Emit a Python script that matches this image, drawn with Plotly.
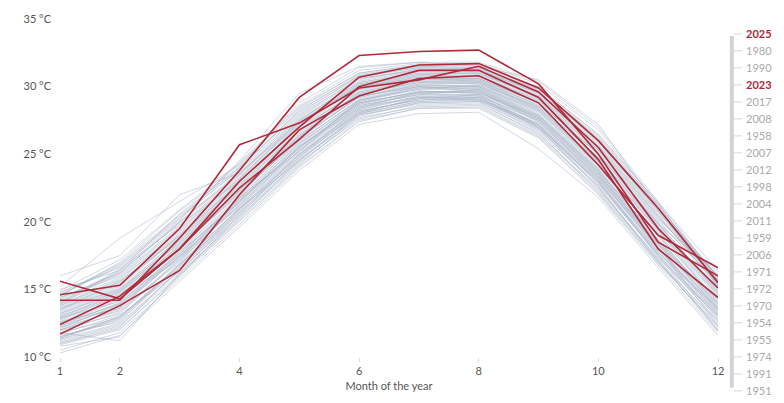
import plotly.graph_objects as go

months = list(range(1, 13))
x_ticks = [1, 2, 4, 6, 8, 10, 12]
y_ticks = [10, 15, 20, 25, 30, 35]
y_tick_text = ["10 °C", "15 °C", "20 °C", "25 °C", "30 °C", "35 °C"]

grey_years = [1951, 1952, 1953, 1954, 1955, 1956, 1957, 1958, 1959, 1960,
              1961, 1962, 1963, 1964, 1965, 1966, 1967, 1968, 1969, 1970,
              1971, 1972, 1973, 1974, 1975, 1976, 1977, 1978, 1979, 1980,
              1981, 1982, 1983, 1984, 1985, 1986, 1987, 1988, 1989, 1990,
              1991, 1992, 1993, 1994, 1995, 1996, 1997, 1998, 1999, 2000,
              2001, 2002, 2003, 2004, 2005, 2006, 2007, 2008, 2009, 2010,
              2011, 2012, 2013, 2014, 2015, 2016, 2017, 2018, 2019, 2020]

grey_temps = [
    [11.0, 12.2, 16.5, 20.8, 25.0, 28.2, 29.0, 29.2, 27.0, 23.0, 17.5, 12.0],
    [12.0, 13.5, 17.0, 21.5, 25.8, 28.8, 29.6, 29.5, 27.5, 23.2, 18.0, 13.2],
    [11.5, 12.8, 16.8, 21.0, 24.5, 28.0, 29.2, 29.0, 27.2, 22.8, 17.8, 12.8],
    [10.8, 11.5, 16.0, 20.5, 24.8, 28.5, 29.5, 29.3, 27.0, 22.5, 17.2, 12.4],
    [12.2, 13.8, 17.5, 21.2, 25.5, 28.6, 29.4, 29.8, 27.6, 23.5, 18.2, 12.3],
    [11.8, 11.2, 16.2, 20.2, 24.6, 27.8, 28.8, 28.9, 26.8, 22.6, 17.0, 12.6],
    [12.8, 14.5, 17.2, 21.8, 25.2, 29.0, 30.0, 29.6, 27.8, 23.8, 18.6, 13.5],
    [13.0, 14.8, 18.2, 22.0, 26.2, 29.2, 30.2, 30.0, 28.0, 24.0, 19.2, 15.2],
    [12.6, 13.6, 17.8, 21.4, 25.6, 28.4, 29.6, 29.7, 27.4, 23.4, 18.4, 14.3],
    [11.4, 13.0, 16.6, 20.6, 25.0, 28.1, 29.1, 29.4, 27.1, 23.1, 17.6, 13.0],
    [12.4, 14.2, 18.0, 22.2, 26.0, 29.0, 29.8, 30.1, 28.2, 24.2, 18.9, 13.7],
    [11.2, 12.4, 16.4, 20.4, 24.4, 27.6, 28.6, 28.7, 26.6, 22.2, 17.0, 12.2],
    [10.5, 11.8, 15.8, 19.8, 24.0, 27.4, 28.4, 28.4, 26.2, 22.0, 16.8, 11.8],
    [12.0, 13.2, 17.3, 21.6, 25.4, 28.7, 29.7, 29.5, 27.7, 23.6, 18.1, 13.4],
    [11.6, 12.6, 16.9, 21.0, 25.1, 28.3, 29.3, 29.1, 27.3, 23.3, 17.9, 13.1],
    [13.2, 15.0, 18.4, 22.4, 26.4, 29.4, 30.4, 30.2, 28.4, 24.4, 19.4, 14.0],
    [11.3, 12.9, 16.7, 20.9, 24.9, 28.0, 28.9, 29.0, 26.9, 22.9, 17.4, 12.7],
    [12.3, 14.0, 17.6, 21.7, 25.7, 28.9, 29.9, 29.9, 27.9, 23.9, 18.7, 13.9],
    [11.9, 13.3, 17.1, 21.3, 25.3, 28.5, 29.2, 29.3, 27.5, 23.4, 18.0, 13.3],
    [10.9, 12.0, 16.1, 20.1, 24.2, 27.9, 28.7, 28.8, 26.5, 22.4, 17.3, 13.1],
    [11.7, 13.1, 16.3, 20.7, 24.7, 28.2, 29.0, 29.2, 27.0, 23.0, 17.7, 13.6],
    [12.1, 13.9, 17.4, 21.1, 25.2, 28.4, 29.3, 29.4, 27.2, 23.2, 18.3, 13.4],
    [10.3, 11.6, 15.6, 19.6, 23.8, 27.2, 28.0, 28.1, 25.4, 21.8, 16.6, 11.6],
    [11.1, 12.3, 16.2, 20.3, 24.3, 27.7, 28.5, 28.6, 26.4, 22.3, 17.1, 12.0],
    [12.5, 14.3, 17.9, 21.9, 25.9, 29.1, 30.0, 29.8, 27.8, 23.7, 18.5, 13.8],
    [11.5, 12.7, 16.6, 20.9, 24.8, 28.1, 29.1, 29.0, 27.1, 22.9, 17.5, 12.9],
    [13.5, 15.6, 18.8, 22.6, 26.6, 29.5, 30.3, 30.2, 28.5, 24.6, 19.6, 14.6],
    [12.7, 14.6, 18.1, 22.1, 26.1, 29.3, 30.1, 30.0, 28.1, 24.1, 19.0, 14.1],
    [11.0, 12.1, 16.0, 20.0, 24.1, 27.5, 28.4, 28.5, 26.3, 22.1, 16.9, 12.3],
    [13.4, 15.2, 19.0, 22.8, 26.8, 29.8, 30.6, 30.6, 28.8, 25.0, 19.8, 16.3],
    [12.9, 14.1, 17.7, 21.5, 25.6, 28.7, 29.5, 29.6, 27.6, 23.5, 18.4, 13.6],
    [16.0, 17.5, 22.0, 23.6, 27.4, 30.0, 30.6, 30.4, 28.6, 24.8, 19.6, 15.0],
    [12.2, 13.4, 17.2, 21.2, 25.3, 28.6, 29.4, 29.4, 27.4, 23.3, 18.1, 13.2],
    [11.4, 13.0, 16.8, 20.7, 24.6, 28.0, 28.9, 29.1, 26.9, 22.7, 17.6, 12.6],
    [12.6, 14.4, 18.3, 22.3, 26.3, 29.2, 30.1, 30.1, 28.3, 24.3, 19.1, 14.4],
    [11.8, 12.9, 16.9, 21.0, 25.0, 28.3, 29.2, 29.2, 27.2, 23.1, 17.8, 13.0],
    [13.1, 14.9, 18.6, 22.5, 26.5, 29.5, 30.3, 30.4, 28.4, 24.5, 19.5, 14.8],
    [12.0, 13.6, 17.5, 21.6, 25.5, 28.8, 29.6, 29.7, 27.7, 23.7, 18.4, 13.5],
    [14.0, 16.5, 19.8, 23.0, 27.0, 29.6, 30.5, 30.5, 28.6, 24.8, 19.8, 15.0],
    [13.6, 15.4, 18.9, 22.9, 27.2, 30.0, 30.8, 30.7, 29.0, 25.2, 20.2, 16.1],
    [11.3, 12.5, 16.4, 20.5, 24.5, 27.9, 28.8, 28.9, 26.7, 22.6, 17.2, 11.9],
    [12.4, 14.0, 17.8, 21.8, 26.0, 29.0, 29.9, 29.9, 27.9, 23.9, 18.7, 14.0],
    [12.8, 14.7, 18.5, 22.4, 26.4, 29.4, 30.2, 30.3, 28.3, 24.4, 19.3, 14.5],
    [13.3, 15.1, 18.7, 22.7, 26.7, 29.7, 30.5, 30.4, 28.7, 24.7, 19.7, 14.9],
    [13.8, 15.8, 19.3, 23.2, 27.4, 30.2, 31.0, 30.9, 29.2, 25.4, 20.4, 15.4],
    [12.5, 13.9, 17.6, 21.7, 25.8, 28.9, 29.8, 29.8, 27.8, 23.8, 18.6, 13.9],
    [14.2, 16.2, 20.0, 23.5, 27.6, 30.3, 31.1, 31.0, 29.3, 25.6, 20.6, 15.6],
    [13.7, 15.5, 19.2, 23.1, 27.3, 30.1, 30.9, 30.8, 29.1, 25.3, 20.3, 15.7],
    [12.3, 13.7, 17.4, 21.4, 25.5, 28.8, 29.6, 29.6, 27.6, 23.6, 18.3, 13.7],
    [13.0, 14.6, 18.2, 22.2, 26.2, 29.3, 30.0, 30.0, 28.2, 24.2, 19.0, 14.2],
    [14.4, 16.0, 19.6, 23.4, 27.5, 30.4, 31.2, 31.1, 29.4, 25.8, 20.8, 15.3],
    [12.9, 14.8, 18.4, 22.3, 26.3, 29.6, 30.4, 30.3, 28.5, 24.5, 19.4, 14.6],
    [14.6, 16.8, 20.4, 23.8, 28.0, 30.8, 31.4, 31.3, 29.6, 26.0, 21.0, 15.8],
    [13.9, 15.7, 19.4, 23.3, 27.3, 30.2, 30.9, 31.0, 29.2, 25.5, 20.4, 15.6],
    [15.0, 16.4, 20.6, 24.0, 28.2, 30.9, 31.5, 31.4, 29.8, 26.2, 21.2, 15.9],
    [13.5, 15.3, 19.1, 23.0, 27.1, 30.0, 30.7, 30.6, 28.9, 25.1, 20.0, 15.5],
    [14.3, 16.3, 19.9, 23.6, 27.7, 30.5, 31.3, 31.2, 29.5, 25.9, 20.9, 15.9],
    [14.1, 16.1, 19.7, 23.5, 27.8, 30.6, 31.2, 31.2, 29.5, 25.7, 20.7, 16.0],
    [15.2, 18.8, 21.5, 24.2, 28.4, 31.0, 31.6, 31.6, 30.0, 26.4, 21.4, 15.2],
    [13.6, 15.0, 18.8, 22.8, 27.0, 29.9, 30.7, 30.6, 28.8, 25.0, 19.9, 14.7],
    [14.8, 16.6, 20.2, 24.4, 28.6, 31.2, 31.7, 31.7, 30.2, 26.8, 21.3, 15.6],
    [14.5, 17.0, 20.8, 24.1, 28.8, 31.4, 31.8, 31.8, 30.4, 27.0, 21.5, 15.8],
    [13.2, 14.9, 18.6, 22.6, 26.8, 29.8, 30.6, 30.5, 28.8, 25.0, 19.9, 14.8],
    [14.0, 15.9, 19.5, 23.2, 27.5, 30.3, 31.0, 31.0, 29.3, 25.6, 20.5, 15.2],
    [13.9, 16.4, 20.1, 24.5, 29.5, 31.5, 31.8, 31.5, 30.5, 27.2, 21.0, 15.4],
    [14.7, 16.9, 20.5, 24.0, 28.1, 30.7, 31.4, 31.3, 29.7, 26.1, 21.1, 15.7],
    [14.9, 17.2, 20.9, 24.3, 28.5, 31.0, 31.6, 31.5, 29.9, 26.5, 21.4, 16.4],
    [13.8, 15.6, 19.0, 22.9, 27.2, 30.1, 30.8, 30.8, 29.0, 25.3, 20.1, 15.3],
    [14.4, 16.2, 20.0, 23.7, 27.9, 30.6, 31.3, 31.2, 29.6, 26.0, 20.8, 15.5],
    [14.6, 16.7, 20.3, 23.9, 28.3, 30.8, 31.5, 31.4, 29.8, 26.3, 21.2, 15.9],
]

red_years = [2021, 2022, 2023, 2024, 2025]
red_temps = [
    [15.6, 14.3, 18.0, 23.0, 27.0, 30.7, 31.6, 31.7, 29.9, 26.0, 21.0, 15.5],
    [14.6, 15.3, 19.5, 25.7, 27.3, 29.9, 30.5, 31.5, 29.6, 25.5, 19.5, 15.1],
    [14.2, 14.2, 18.8, 23.8, 29.2, 32.3, 32.6, 32.7, 30.2, 25.0, 18.5, 16.0],
    [12.4, 14.5, 18.0, 22.5, 26.1, 30.0, 31.2, 31.2, 29.2, 24.6, 18.0, 14.4],
    [11.7, 13.8, 16.4, 22.0, 26.8, 29.3, 30.6, 30.8, 28.8, 24.2, 19.0, 16.6],
]

label_years = ["2025", "1980", "1990", "2023", "2017", "2008", "1958", "2007",
               "2012", "1998", "2004", "2011", "1959", "2006", "1971", "1972",
               "1970", "1954", "1955", "1974", "1991", "1951"]
highlight_labels = ["2025", "2023"]

GREY = "rgba(165,177,197,0.5)"
RED = "#b02a3a"
FONT = "Lato, 'Open Sans', sans-serif"

fig = go.Figure()
for yr, temps in zip(grey_years, grey_temps):
    fig.add_trace(go.Scatter(x=months, y=temps, mode="lines", name=str(yr),
                             line=dict(color=GREY, width=1), showlegend=False,
                             hoverinfo="skip"))
for yr, temps in zip(red_years, red_temps):
    fig.add_trace(go.Scatter(x=months, y=temps, mode="lines", name=str(yr),
                             line=dict(color=RED, width=1.6), showlegend=False))

# right-side year labels
top_y, step = 0.956, 0.0503
for i, lab in enumerate(label_years):
    hl = lab in highlight_labels
    yy = top_y - i * step
    fig.add_annotation(xref="paper", yref="paper", x=1.04, y=yy, text=lab,
                       showarrow=False, xanchor="left", yanchor="middle",
                       font=dict(family=FONT, size=11,
                                 color=RED if hl else "#aaaaaa",
                                 weight="bold" if hl else "normal"))
    fig.add_shape(type="line", xref="paper", yref="paper",
                  x0=1.024, x1=1.037, y0=yy, y1=yy,
                  line=dict(color="#d8d8d8", width=1))
fig.add_shape(type="line", xref="paper", yref="paper", x0=1.021, x1=1.021,
              y0=0.95, y1=-0.09, line=dict(color="#d2d2d2", width=4))

fig.update_layout(
    width=784, height=403,
    margin=dict(l=60, r=66, t=18, b=43),
    paper_bgcolor="white", plot_bgcolor="white",
    font=dict(family=FONT, size=11, color="#555555"),
    xaxis=dict(range=[1, 12], tickvals=x_ticks, showgrid=False, zeroline=False,
               showline=False, ticks="outside", ticklen=4, tickcolor="#dddddd",
               title=dict(text="Month of the year", standoff=6,
                          font=dict(size=11, color="#555555"))),
    yaxis=dict(range=[10, 35], tickvals=y_ticks, ticktext=y_tick_text,
               showgrid=False, zeroline=False, showline=False,
               ticklabelstandoff=8),
)

fig.write_html("out.html")
